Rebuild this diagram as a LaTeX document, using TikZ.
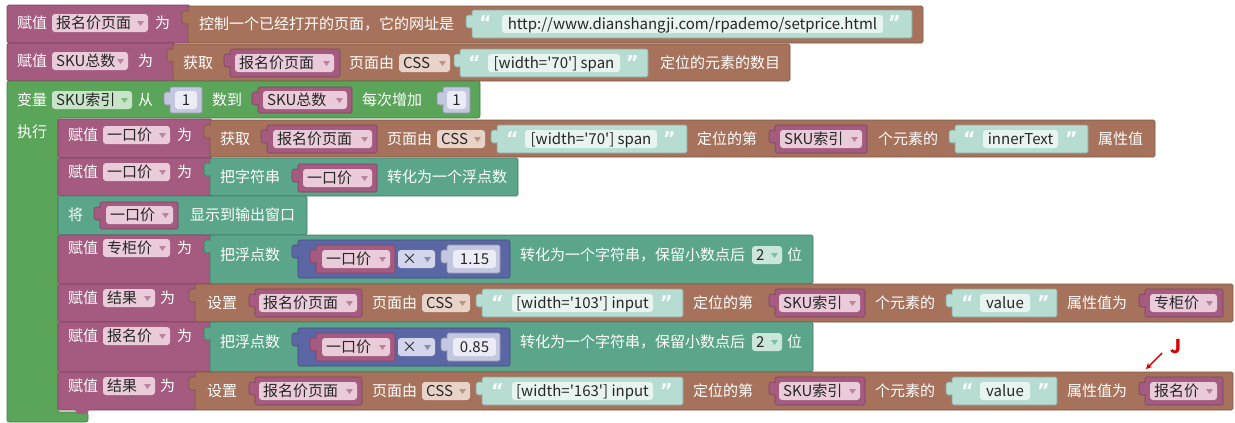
\documentclass[tikz,border=0pt]{standalone}
\usepackage{fontspec}
\setmainfont{Noto Sans CJK SC}
\newfontfamily\plainfont{Noto Sans CJK SC}
\newfontfamily\qfont{DejaVu Sans}
\usetikzlibrary{arrows.meta}
\definecolor{pinkB}{HTML}{A55A80}
\definecolor{brownB}{HTML}{A6725B}
\definecolor{greenB}{HTML}{5BA55B}
\definecolor{tealB}{HTML}{5BA58A}
\definecolor{strB}{HTML}{B7DCD2}
\definecolor{strF}{HTML}{E8F4F0}
\definecolor{mathB}{HTML}{5B67A5}
\definecolor{numB}{HTML}{C4C7E0}
\definecolor{numF}{HTML}{EBECF5}
\definecolor{pinkF}{HTML}{EACBDA}
\definecolor{greenF}{HTML}{C8E4C8}
\definecolor{brownF}{HTML}{E8D3C8}
\definecolor{tealF}{HTML}{CBE7DC}
\definecolor{mathF}{HTML}{D3D6EB}
\tikzset{
  lab/.style={text=white, font=\fontsize{15}{18}\selectfont, inner sep=0pt, text height=11pt, text depth=0pt, anchor=west},
  ftx/.style={text=black!85, font=\plainfont\fontsize{15}{18}\selectfont, inner sep=0pt, text height=11pt, text depth=0pt, anchor=west},
  qtx/.style={font=\qfont\bfseries\fontsize{19}{21}\selectfont, inner sep=0pt, text height=12pt, text depth=0pt, anchor=west},
  blk/.style={line width=0.6pt, rounded corners=1.5pt}
}
% statement / plain block
\newcommand{\sblk}[5]{\filldraw[blk, fill=#5, draw=#5!75!black] (#1,#2) rectangle (#3,#4);}
% value block with left tab
\newcommand{\vblk}[5]{%
  \filldraw[fill=#5, draw=#5!75!black, line width=0.6pt, rounded corners=2.5pt] (#1-6,#2+5) rectangle (#1+2,#2+18);
  \filldraw[blk, fill=#5, draw=#5!75!black] (#1,#2) rectangle (#3,#4);
  \fill[#5] (#1-5.4,#2+5.6) rectangle (#1+1,#2+17.4);}
% dropdown field
\newcommand{\fld}[7]{%
  \fill[#6, rounded corners=3pt] (#2,#4-9) rectangle (#3,#4+9);
  \node[ftx] (#1) at (#2+4,#4) {#5};
  \fill[#7] (#3-11,#4-2) -- (#3-4,#4-2) -- (#3-7.5,#4+3) -- cycle;}
% text field
\newcommand{\tfld}[6]{%
  \fill[#6, rounded corners=3pt] (#2,#4-9) rectangle (#3,#4+9);
  \node[ftx, anchor=center] (#1) at ({(#2+#3)/2},#4) {#5};}
% quote mark
\newcommand{\qt}[4]{\node[qtx, text=white!92!strB] (#1) at (#2,#3) {#4};}
\newcommand{\lbl}[4]{\node[lab] (#1) at (#2,#3) {#4};}
\colorlet{pinkA}{pinkB!75!white}
\colorlet{greenA}{greenB!75!white}
\colorlet{brownA}{brownB!75!white}
\colorlet{mathA}{mathB!75!white}
\colorlet{tealA}{tealB!75!white}
\begin{document}
\begin{tikzpicture}[x=1pt,y=-1pt]
\fill[white] (0,0) rectangle (1235,423);
\useasboundingbox (0,0) rectangle (1235,423);

% ---------- row 1
\sblk{7}{5}{190}{43}{pinkB}
\lbl{t1a}{17}{23}{赋值}
\fld{f1a}{52}{148}{23}{报名价页面}{pinkF}{pinkA}
\lbl{t1b}{155}{23}{为}
\vblk{188}{6}{923}{43}{brownB}
\lbl{t1c}{199}{24}{控制一个已经打开的页面，它的网址是}
\vblk{472}{10}{912}{38}{strB}
\qt{q1a}{479}{24}{“}
\tfld{s1}{502}{883}{24}{http://www.dianshangji.com/rpademo/setprice.html}{strF}
\qt{q1b}{888}{24}{”}

% ---------- row 2
\sblk{7}{43}{175}{81}{pinkB}
\lbl{t2a}{17}{61}{赋值}
\fld{f2a}{52}{128}{61}{SKU总数}{pinkF}{pinkA}
\lbl{t2b}{138}{61}{为}
\vblk{173}{44}{790}{81}{brownB}
\lbl{t2c}{183}{63}{获取}
\vblk{230}{49}{340}{77}{pinkB}
\fld{f2b}{235}{334}{63}{报名价页面}{pinkF}{pinkA}
\lbl{t2d}{349}{63}{页面由}
\fld{f2c}{399}{450}{63}{CSS}{brownF}{brownA}
\vblk{460}{49}{648}{77}{strB}
\qt{q2a}{468}{63}{“}
\tfld{s2}{488}{620}{63}{[width='70'] span}{strF}
\qt{q2b}{626}{63}{”}
\lbl{t2e}{660}{63}{定位的元素的数目}

% ---------- loop (green C)
\filldraw[fill=greenB, draw=greenB!75!black, line width=0.6pt, rounded corners=2pt]
  (7,81) -- (480,81) -- (480,118) -- (58,118) -- (58,412) -- (88,412) -- (88,422) -- (7,422) -- cycle;
\lbl{t3a}{17}{100}{变量}
\fld{f3a}{52}{132}{100}{SKU索引}{greenF}{greenA}
\lbl{t3b}{138}{100}{从}
\vblk{170}{87}{202}{113}{numB}
\tfld{n3a}{175}{197}{100}{1}{numF}
\lbl{t3c}{212}{100}{数到}
\vblk{258}{87}{352}{113}{pinkB}
\fld{f3b}{263}{347}{100}{SKU总数}{pinkF}{pinkA}
\lbl{t3d}{362}{100}{每次增加}
\vblk{443}{87}{470}{113}{numB}
\tfld{n3b}{447}{466}{100}{1}{numF}
\lbl{t3e}{17}{132}{执行}

% ---------- row 4
\sblk{58}{119}{212}{158}{pinkB}
\lbl{t4a}{68}{135}{赋值}
\fld{f4a}{103}{170}{135}{一口价}{pinkF}{pinkA}
\lbl{t4b}{177}{135}{为}
\vblk{210}{120}{1155}{157}{brownB}
\lbl{t4c}{220}{139}{获取}
\vblk{267}{125}{377}{153}{pinkB}
\fld{f4b}{273}{372}{139}{报名价页面}{pinkF}{pinkA}
\lbl{t4d}{387}{139}{页面由}
\fld{f4c}{437}{485}{139}{CSS}{brownF}{brownA}
\vblk{497}{125}{687}{153}{strB}
\qt{q4a}{506}{139}{“}
\tfld{s4a}{525}{657}{139}{[width='70'] span}{strF}
\qt{q4b}{663}{139}{”}
\lbl{t4e}{697}{139}{定位的第}
\vblk{775}{125}{867}{153}{pinkB}
\fld{f4d}{780}{862}{139}{SKU索引}{pinkF}{pinkA}
\lbl{t4f}{878}{139}{个元素的}
\vblk{955}{125}{1088}{153}{strB}
\qt{q4c}{963}{139}{“}
\tfld{s4b}{983}{1058}{139}{innerText}{strF}
\qt{q4d}{1065}{139}{”}
\lbl{t4g}{1098}{139}{属性值}

% ---------- row 5
\sblk{58}{158}{212}{196}{pinkB}
\lbl{t5a}{68}{172}{赋值}
\fld{f5a}{103}{170}{172}{一口价}{pinkF}{pinkA}
\lbl{t5b}{177}{172}{为}
\vblk{210}{158}{518}{196}{tealB}
\lbl{t5c}{220}{177}{把字符串}
\vblk{298}{164}{377}{192}{pinkB}
\fld{f5b}{303}{372}{178}{一口价}{pinkF}{pinkA}
\lbl{t5d}{387}{177}{转化为一个浮点数}

% ---------- row 6
\sblk{58}{196}{307}{235}{tealB}
\lbl{t6a}{68}{215}{将}
\vblk{100}{202}{178}{229}{pinkB}
\fld{f6a}{106}{173}{215}{一口价}{pinkF}{pinkA}
\lbl{t6b}{190}{215}{显示到输出窗口}

% ---------- row 7
\sblk{58}{235}{212}{284}{pinkB}
\lbl{t7a}{68}{248}{赋值}
\fld{f7a}{103}{170}{248}{专柜价}{pinkF}{pinkA}
\lbl{t7b}{177}{248}{为}
\vblk{210}{235}{813}{284}{tealB}
\lbl{t7c}{220}{255}{把浮点数}
\vblk{298}{240}{510}{278}{mathB}
\vblk{316}{245}{395}{273}{pinkB}
\fld{f7b}{322}{390}{259}{一口价}{pinkF}{pinkA}
\fld{f7c}{398}{435}{259}{×}{mathF}{mathA}
\vblk{447}{245}{500}{273}{numB}
\tfld{n7}{453}{496}{259}{1.15}{numF}
\lbl{t7d}{520}{255}{转化为一个字符串，保留小数点后}
\fld{f7d}{752}{782}{255}{2}{tealF}{tealA}
\lbl{t7e}{787}{255}{位}

% ---------- row 8
\sblk{58}{284}{197}{322}{pinkB}
\lbl{t8a}{68}{298}{赋值}
\fld{f8a}{103}{155}{298}{结果}{pinkF}{pinkA}
\lbl{t8b}{160}{298}{为}
\vblk{195}{284}{1233}{322}{brownB}
\lbl{t8c}{207}{303}{设置}
\vblk{255}{289}{362}{317}{pinkB}
\fld{f8b}{259}{357}{303}{报名价页面}{pinkF}{pinkA}
\lbl{t8d}{372}{303}{页面由}
\fld{f8c}{422}{470}{303}{CSS}{brownF}{brownA}
\vblk{482}{289}{683}{317}{strB}
\qt{q8a}{491}{303}{“}
\tfld{s8a}{512}{653}{303}{[width='103'] input}{strF}
\qt{q8b}{660}{303}{”}
\lbl{t8e}{693}{303}{定位的第}
\vblk{775}{289}{865}{317}{pinkB}
\fld{f8d}{779}{860}{303}{SKU索引}{pinkF}{pinkA}
\lbl{t8f}{875}{303}{个元素的}
\vblk{952}{289}{1057}{317}{strB}
\qt{q8c}{961}{303}{“}
\tfld{s8b}{980}{1030}{303}{value}{strF}
\qt{q8d}{1037}{303}{”}
\lbl{t8g}{1067}{303}{属性值为}
\vblk{1145}{289}{1223}{317}{pinkB}
\fld{f8e}{1150}{1217}{303}{专柜价}{pinkF}{pinkA}

% ---------- row 9
\sblk{58}{322}{212}{372}{pinkB}
\lbl{t9a}{68}{336}{赋值}
\fld{f9a}{103}{170}{336}{报名价}{pinkF}{pinkA}
\lbl{t9b}{177}{336}{为}
\vblk{210}{322}{813}{372}{tealB}
\lbl{t9c}{220}{342}{把浮点数}
\vblk{298}{328}{510}{366}{mathB}
\vblk{316}{333}{395}{361}{pinkB}
\fld{f9b}{322}{390}{347}{一口价}{pinkF}{pinkA}
\fld{f9c}{398}{435}{347}{×}{mathF}{mathA}
\vblk{447}{333}{500}{361}{numB}
\tfld{n9}{453}{496}{347}{0.85}{numF}
\lbl{t9d}{520}{342}{转化为一个字符串，保留小数点后}
\fld{f9d}{752}{782}{342}{2}{tealF}{tealA}
\lbl{t9e}{787}{342}{位}

% ---------- row 10
\sblk{58}{372}{197}{410}{pinkB}
\fill[pinkB] (74,409) -- (78,414) -- (86,414) -- (90,409) -- cycle;
\lbl{t10a}{68}{386}{赋值}
\fld{f10a}{103}{155}{386}{结果}{pinkF}{pinkA}
\lbl{t10b}{160}{386}{为}
\vblk{195}{372}{1233}{410}{brownB}
\lbl{t10c}{207}{391}{设置}
\vblk{255}{377}{362}{405}{pinkB}
\fld{f10b}{259}{357}{391}{报名价页面}{pinkF}{pinkA}
\lbl{t10d}{372}{391}{页面由}
\fld{f10c}{422}{470}{391}{CSS}{brownF}{brownA}
\vblk{482}{377}{683}{405}{strB}
\qt{q10a}{491}{391}{“}
\tfld{s10a}{512}{653}{391}{[width='163'] input}{strF}
\qt{q10b}{660}{391}{”}
\lbl{t10e}{693}{391}{定位的第}
\vblk{775}{377}{865}{405}{pinkB}
\fld{f10d}{779}{860}{391}{SKU索引}{pinkF}{pinkA}
\lbl{t10f}{875}{391}{个元素的}
\vblk{952}{377}{1057}{405}{strB}
\qt{q10c}{961}{391}{“}
\tfld{s10b}{980}{1030}{391}{value}{strF}
\qt{q10d}{1037}{391}{”}
\lbl{t10g}{1067}{391}{属性值为}
\vblk{1145}{377}{1223}{405}{pinkB}
\fld{f10e}{1150}{1217}{391}{报名价}{pinkF}{pinkA}

% ---------- red annotation
\coordinate (ra) at (1162,353);
\coordinate (rb) at (1146,369);
\draw[red!85!black, line width=1.4pt, -{Stealth[length=6pt,width=6pt]}] (ra) -- (rb);
\node[text=red!85!black, font=\bfseries\fontsize{19}{21}\selectfont, inner sep=0pt] (jj) at (1176,347) {J};
\end{tikzpicture}
\end{document}
